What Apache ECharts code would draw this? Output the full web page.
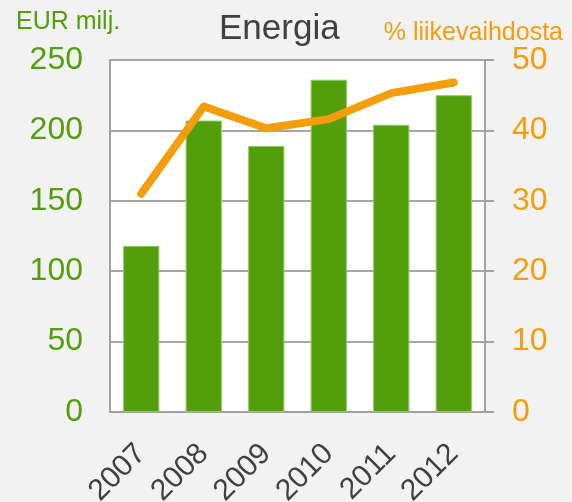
<!DOCTYPE html>
<html>
<head>
<meta charset="utf-8">
<script src="https://cdn.jsdelivr.net/npm/echarts@6/dist/echarts.min.js"></script>
<style>
  html, body { margin: 0; padding: 0; background: #f2f2f2; }
  #chart { width: 572px; height: 502px; }
</style>
</head>
<body>
<div id="chart"></div>
<script>
// data
const years = ['2007', '2008', '2009', '2010', '2011', '2012'];
const revenue = [118, 207, 189, 236, 204, 225];     // EUR milj.
const share = [31.0, 43.4, 40.3, 41.6, 45.3, 46.8]; // % liikevaihdosta
const leftTicks = [0, 250, 50];
const rightTicks = [0, 50, 10];

const green = '#529e0b';
const orange = '#f59e0c';
const font = 'Liberation Sans, Arial, sans-serif';

const chart = echarts.init(document.getElementById('chart'), null, { renderer: 'canvas' });

chart.setOption({
  backgroundColor: '#f2f2f2',
  animation: false,
  textStyle: { fontFamily: font },
  title: [
    { text: 'Energia', left: 214, top: 7,
      textStyle: { fontSize: 35, fontWeight: 'normal', color: '#404040', fontFamily: font } },
    { text: 'EUR milj.', left: 11, top: 5,
      textStyle: { fontSize: 25, fontWeight: 'normal', color: green, fontFamily: font } },
    { text: '% liikevaihdosta', right: 4, top: 16,
      textStyle: { fontSize: 25, fontWeight: 'normal', color: orange, fontFamily: font } }
  ],
  grid: {
    left: 110, right: 87, top: 60, bottom: 90,
    outerBoundsMode: 'none', containLabel: false,
    show: true, backgroundColor: '#fff', borderWidth: 0
  },
  xAxis: {
    type: 'category',
    data: years,
    axisLine: { lineStyle: { color: '#a0a0a0', width: 2 } },
    axisTick: { show: false },
    axisLabel: { rotate: 45, fontSize: 30, color: '#404040', margin: 37, fontFamily: font }
  },
  yAxis: [
    {
      type: 'value', min: leftTicks[0], max: leftTicks[1], interval: leftTicks[2],
      axisLine: { show: true, lineStyle: { color: '#a0a0a0', width: 2 } },
      axisTick: { show: false },
      splitLine: { lineStyle: { color: '#a6a6a6', width: 2 } },
      axisLabel: { fontSize: 32, color: green, margin: 27, fontFamily: font }
    },
    {
      type: 'value', min: rightTicks[0], max: rightTicks[1], interval: rightTicks[2],
      axisLine: { show: true, lineStyle: { color: '#a0a0a0', width: 2 } },
      axisTick: { show: true, length: 9, lineStyle: { color: '#a0a0a0', width: 2 } },
      splitLine: { show: false },
      axisLabel: { fontSize: 32, color: orange, margin: 27, fontFamily: font }
    }
  ],
  series: [
    {
      type: 'bar',
      data: revenue,
      yAxisIndex: 0,
      barCategoryGap: '42%',
      itemStyle: { color: green, borderColor: '#8fcc66', borderWidth: 1 }
    },
    {
      type: 'line',
      data: share,
      yAxisIndex: 1,
      showSymbol: false,
      symbol: 'none',
      lineStyle: { color: orange, width: 8, cap: 'round', join: 'round' }
    }
  ]
});
</script>
</body>
</html>
